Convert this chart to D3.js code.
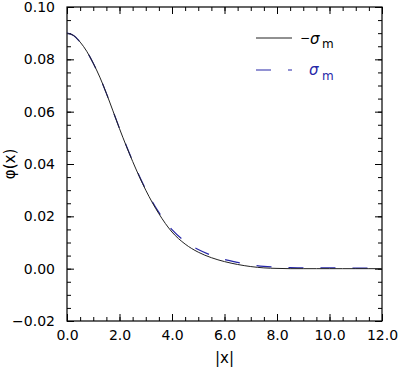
<!DOCTYPE html>
<html>
<head>
<meta charset="utf-8">
<script src="https://cdn.jsdelivr.net/npm/d3@7"></script>
<style>
  body { margin: 0; background: #fff; }
  text { font-family: "DejaVu Sans", sans-serif; }
</style>
</head>
<body>
<div id="chart"></div>
<script>
// sample positions |x|
const xs = [0, 0.25, 0.5, 0.75, 1.0, 1.25, 1.5, 1.75, 2.0, 2.5, 3.0, 3.5, 4.0, 4.5, 5.0, 5.5, 6.0, 6.5, 7.0, 7.5, 8.0, 8.5, 9.0, 9.5, 10.0, 10.5, 11.0, 11.5, 12.0];

// phi(x) for -sigma_m (solid black)
const phiNeg = [0.0900, 0.0891, 0.0866, 0.0831, 0.0785, 0.0732, 0.0670, 0.0603, 0.0535, 0.0410, 0.0300, 0.0210, 0.0140, 0.0094, 0.0063, 0.0042, 0.0027, 0.0016, 0.0008, 0.0003, 0.0001, 0.0000, 0.0000, 0.0000, 0.0000, 0.0000, 0.0000, 0.0000, 0.0000];

// phi(x) for sigma_m (dashed blue)
const phiPos = [0.0900, 0.0891, 0.0866, 0.0831, 0.0785, 0.0732, 0.0670, 0.0603, 0.0536, 0.0412, 0.0303, 0.0215, 0.0149, 0.0104, 0.0073, 0.0051, 0.0035, 0.0024, 0.0015, 0.0009, 0.0006, 0.0004, 0.0003, 0.0003, 0.0003, 0.0003, 0.0002, 0.0002, 0.0002];

const xTicks = [0, 2, 4, 6, 8, 10, 12];
const yTicks = [-0.02, 0.00, 0.02, 0.04, 0.06, 0.08, 0.10];

const W = 399, H = 369;
const margin = {top: 7, right: 17, bottom: 48, left: 67};
const w = W - margin.left - margin.right;
const h = H - margin.top - margin.bottom;

const svg = d3.select("#chart").append("svg")
    .attr("width", W)
    .attr("height", H);

const g = svg.append("g")
    .attr("transform", `translate(${margin.left},${margin.top})`);

const x = d3.scaleLinear().domain([0, 12]).range([0, w]);
const y = d3.scaleLinear().domain([-0.02, 0.10]).range([h, 0]);

const xMinor = d3.range(0, 12.001, 0.5);
const yMinor = d3.range(-0.02, 0.1001, 0.005);

// minor ticks (inward, all four sides)
g.append("g").attr("transform", `translate(0,${h})`)
    .call(d3.axisBottom(x).tickValues(xMinor).tickSize(-4).tickFormat(""));
g.append("g")
    .call(d3.axisTop(x).tickValues(xMinor).tickSize(-4).tickFormat(""));
g.append("g")
    .call(d3.axisLeft(y).tickValues(yMinor).tickSize(-4).tickFormat(""));
g.append("g").attr("transform", `translate(${w},0)`)
    .call(d3.axisRight(y).tickValues(yMinor).tickSize(-4).tickFormat(""));

// major ticks with labels
g.append("g").attr("class", "xaxis").attr("transform", `translate(0,${h})`)
    .call(d3.axisBottom(x).tickValues(xTicks).tickSize(-7).tickPadding(9).tickFormat(d3.format(".1f")));
g.append("g")
    .call(d3.axisTop(x).tickValues(xTicks).tickSize(-7).tickFormat(""));
g.append("g").attr("class", "yaxis")
    .call(d3.axisLeft(y).tickValues(yTicks).tickSize(-7).tickPadding(12).tickFormat(d3.format(".2f")));
g.append("g").attr("transform", `translate(${w},0)`)
    .call(d3.axisRight(y).tickValues(yTicks).tickSize(-7).tickFormat(""));

g.selectAll(".domain").remove();
g.selectAll(".tick line").attr("stroke", "#000");
g.selectAll(".tick text").attr("font-size", 14).attr("fill", "#000")
    .style("font-family", "DejaVu Sans, sans-serif");

// frame
g.append("rect")
    .attr("width", w).attr("height", h)
    .attr("fill", "none").attr("stroke", "#000").attr("stroke-width", 1.2);

// curves
const line = (vals) => d3.line()
    .x((d, i) => x(xs[i]))
    .y(d => y(d))
    .curve(d3.curveMonotoneX)(vals);

g.append("path")
    .attr("d", line(phiPos))
    .attr("fill", "none")
    .attr("stroke", "#2626a8")
    .attr("stroke-width", 1.2)
    .attr("stroke-dasharray", "15,17");

g.append("path")
    .attr("d", line(phiNeg))
    .attr("fill", "none")
    .attr("stroke", "#222")
    .attr("stroke-width", 1);

// axis titles
svg.append("text")
    .attr("x", margin.left + w / 2).attr("y", 363)
    .attr("text-anchor", "middle").attr("font-size", 15)
    .text("|x|");

svg.append("text")
    .attr("transform", `translate(15,${margin.top + h / 2}) rotate(-90)`)
    .attr("text-anchor", "middle").attr("font-size", 15)
    .text("\u03c6(x)");

// legend
const legend = svg.append("g");
legend.append("line")
    .attr("x1", 256).attr("x2", 292).attr("y1", 38).attr("y2", 38)
    .attr("stroke", "#222").attr("stroke-width", 1);
legend.append("line")
    .attr("x1", 256).attr("x2", 292).attr("y1", 70).attr("y2", 70)
    .attr("stroke", "#2626a8").attr("stroke-width", 1.2)
    .attr("stroke-dasharray", "15,17");

const t1 = legend.append("text").attr("y", 44).attr("font-size", 15).attr("fill", "#000");
t1.append("tspan").attr("x", 300).attr("dy", -2).attr("font-size", 12).text("\u2212");
t1.append("tspan").attr("x", 310).attr("dy", 2).attr("font-style", "italic").text("\u03c3");
t1.append("tspan").attr("x", 322).attr("dy", 4).attr("font-size", 12).text("m");

const t2 = legend.append("text").attr("y", 75).attr("font-size", 15).attr("fill", "#2626a8");
t2.append("tspan").attr("x", 309).attr("font-style", "italic").text("\u03c3");
t2.append("tspan").attr("x", 322).attr("dy", 5).attr("font-size", 12).text("m");
</script>
</body>
</html>
